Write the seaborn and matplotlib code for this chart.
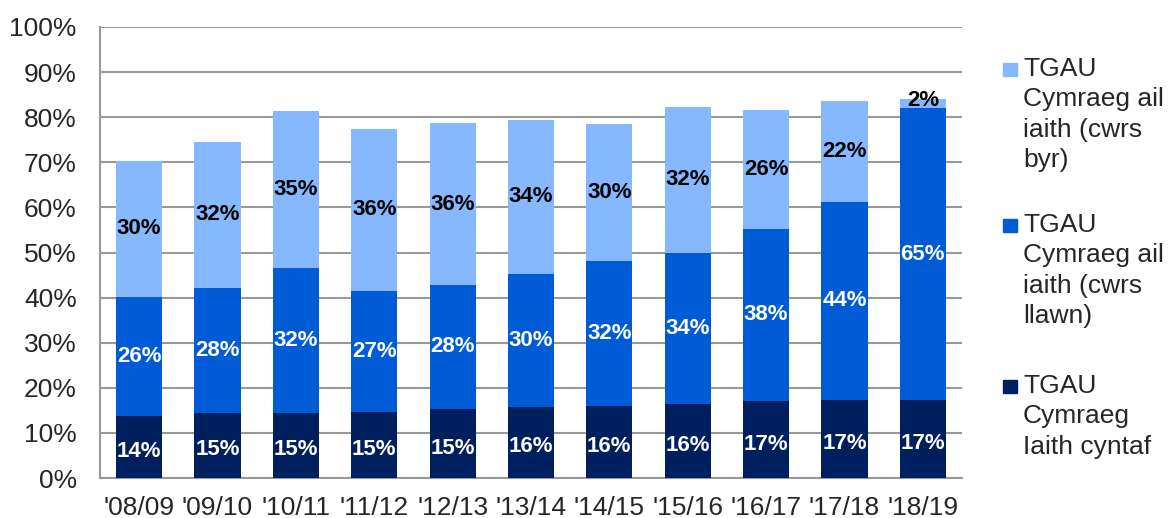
import numpy as np
import pandas as pd
import matplotlib
matplotlib.use("Agg")
import matplotlib.pyplot as plt
import seaborn as sns

# Data
years = ["'08/09", "'09/10", "'10/11", "'11/12", "'12/13", "'13/14",
         "'14/15", "'15/16", "'16/17", "'17/18", "'18/19"]
iaith_cyntaf = [13.8, 14.5, 14.5, 14.7, 15.3, 15.8, 16.0, 16.3, 17.0, 17.3, 17.2]
cwrs_llawn = [26.4, 27.7, 32.1, 26.8, 27.5, 29.5, 32.2, 33.7, 38.3, 43.9, 64.8]
cwrs_byr = [30.1, 32.4, 34.8, 35.9, 35.9, 34.1, 30.4, 32.3, 26.3, 22.4, 2.0]
labels_cyntaf = ["14%", "15%", "15%", "15%", "15%", "16%", "16%", "16%", "17%", "17%", "17%"]
labels_llawn = ["26%", "28%", "32%", "27%", "28%", "30%", "32%", "34%", "38%", "44%", "65%"]
labels_byr = ["30%", "32%", "35%", "36%", "36%", "34%", "30%", "32%", "26%", "22%", "2%"]

series_names = ["TGAU\nCymraeg\nIaith cyntaf",
                "TGAU\nCymraeg ail\niaith (cwrs\nllawn)",
                "TGAU\nCymraeg ail\niaith (cwrs\nbyr)"]
colours = ["#001F5F", "#005CD6", "#85B8FF"]

df = pd.DataFrame({"blwyddyn": years, "cyntaf": iaith_cyntaf,
                   "llawn": cwrs_llawn, "byr": cwrs_byr})
df["c1"] = df["cyntaf"]
df["c2"] = df["c1"] + df["llawn"]
df["c3"] = df["c2"] + df["byr"]

sns.set_style("white")
plt.rcParams["font.family"] = ["Liberation Sans", "DejaVu Sans"]

W, H = 1168, 518
fig, ax = plt.subplots(figsize=(W / 100, H / 100), dpi=100)
fig.subplots_adjust(left=100 / W, right=962 / W, top=1 - 27 / H, bottom=1 - 478 / H)

# stacked bars: draw cumulative totals from top to bottom
for col, colour in zip(["c3", "c2", "c1"], colours[::-1]):
    sns.barplot(data=df, x="blwyddyn", y=col, color=colour, width=0.59,
                saturation=1, ax=ax, zorder=3, linewidth=0)

# data labels
x = np.arange(len(years))
for i in x:
    ax.text(i, df["c1"][i] / 2 - 1, labels_cyntaf[i], ha="center", va="center",
            color="white", fontsize=16, fontweight="bold", zorder=5)
    ax.text(i, (df["c1"][i] + df["c2"][i]) / 2, labels_llawn[i], ha="center", va="center",
            color="white", fontsize=16, fontweight="bold", zorder=5)
    y_byr = (df["c2"][i] + df["c3"][i]) / 2
    if cwrs_byr[i] < 5:
        y_byr = df["c3"][i] - 0.2
    ax.text(i, y_byr, labels_byr[i], ha="center", va="center",
            color="black", fontsize=16, fontweight="bold", zorder=5)

# axes
ax.set_ylim(0, 100)
ax.set_xlim(-0.5, len(years) - 0.5)
ax.set_yticks(np.arange(0, 101, 10))
ax.set_yticklabels([f"{v}%" for v in range(0, 101, 10)], fontsize=19)
ax.set_xticks(x)
ax.set_xticklabels(years, fontsize=19)
ax.set_xticks(np.arange(-0.5, len(years), 1), minor=True)
ax.tick_params(axis="x", which="major", length=0, pad=13)
ax.tick_params(axis="x", which="minor", length=5.8, width=1.5, color="#999999")
ax.tick_params(axis="y", length=5.8, width=1.5, color="#999999", pad=11)
ax.set_xlabel("")
ax.set_ylabel("")
ax.yaxis.grid(True, color="#999999", linewidth=1.5, zorder=0)
ax.set_axisbelow(True)
for s in ["top", "right"]:
    ax.spines[s].set_visible(False)
for s in ["left", "bottom"]:
    ax.spines[s].set_color("#999999")
    ax.spines[s].set_linewidth(1.5)

# legend (drawn by hand so the square sits by the first line)
leg_tops = [380, 219, 63]
for name, colour, top in zip(series_names, colours, leg_tops):
    fig.patches.append(plt.Rectangle((1003 / W, 1 - (top + 13) / H), 14 / W, 13 / H,
                                     color=colour, transform=fig.transFigure, figure=fig))
    fig.text(1023 / W, 1 - (top - 6) / H, name, fontsize=19, va="top", ha="left",
             linespacing=1.33)

fig.savefig("out.png", dpi=100)
